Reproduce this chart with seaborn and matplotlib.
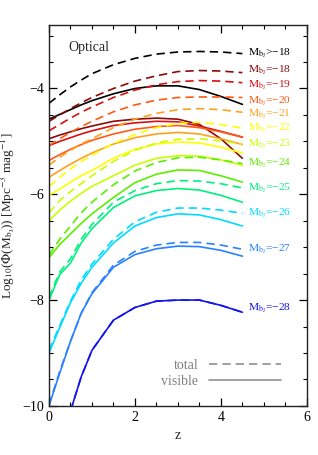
# plot.py
# Luminosity function vs redshift, optical band
# dashed = total, solid = visible

import numpy as np
import pandas as pd
import matplotlib
matplotlib.use('Agg')
import matplotlib.pyplot as plt
from matplotlib.lines import Line2D
from matplotlib.ticker import MultipleLocator
import seaborn as sns

# ── Data ────────────────────────────────────────────────
z = [0, 0.25, 0.5, 0.75, 1.0, 1.5, 2.0, 2.5, 3.0, 3.5, 4.0, 4.5]

mags = ['>-18', '-18', '-19', '-20', '-21', '-22',
        '-23', '-24', '-25', '-26', '-27', '-28']

colors = ['#000000', '#8b0a0a', '#d81010', '#ff5a14', '#ffa01e', '#ffff00',
          '#c8ff00', '#5af000', '#00f07e', '#00dcff', '#2882ff', '#1414f0']

total = [
    [-4.28, -4.12, -3.97, -3.84, -3.72, -3.55, -3.43, -3.35, -3.31, -3.30, -3.31, -3.34],
    [-4.62, -4.50, -4.38, -4.27, -4.17, -4.00, -3.86, -3.76, -3.68, -3.66, -3.67, -3.70],
    [-4.80, -4.68, -4.56, -4.45, -4.35, -4.17, -4.03, -3.93, -3.87, -3.85, -3.86, -3.89],
    [-5.08, -4.95, -4.83, -4.72, -4.62, -4.44, -4.31, -4.22, -4.17, -4.16, -4.16, -4.17],
    [-5.45, -5.30, -5.17, -5.05, -4.95, -4.74, -4.58, -4.47, -4.40, -4.38, -4.40, -4.45],
    [-5.85, -5.68, -5.52, -5.38, -5.26, -5.04, -4.87, -4.74, -4.66, -4.64, -4.68, -4.75],
    [-6.35, -6.12, -5.95, -5.80, -5.65, -5.38, -5.17, -5.03, -4.96, -4.95, -4.99, -5.05],
    [-7.15, -6.85, -6.60, -6.35, -6.15, -5.82, -5.56, -5.40, -5.31, -5.30, -5.35, -5.42],
    [-7.95, -7.47, -7.22, -6.85, -6.57, -6.15, -5.93, -5.80, -5.74, -5.75, -5.80, -5.88],
    [-8.95, -8.48, -8.02, -7.62, -7.32, -6.85, -6.52, -6.34, -6.26, -6.26, -6.30, -6.36],
    [-9.98, -9.35, -8.78, -8.25, -7.86, -7.34, -7.08, -6.96, -6.91, -6.91, -6.96, -7.04],
    [np.nan, np.nan, -10.1, -9.45, -8.95, -8.38, -8.14, -8.02, -8.00, -8.00, -8.10, -8.23],
]

visible = [
    [-4.58, -4.49, -4.40, -4.31, -4.23, -4.10, -4.00, -3.95, -3.95, -4.02, -4.15, -4.30],
    [-4.95, -4.88, -4.82, -4.76, -4.71, -4.62, -4.58, -4.56, -4.58, -4.68, -4.95, -5.32],
    [-5.08, -5.00, -4.93, -4.86, -4.80, -4.70, -4.65, -4.62, -4.63, -4.71, -4.81, -4.92],
    [-5.36, -5.25, -5.15, -5.06, -4.98, -4.86, -4.77, -4.72, -4.70, -4.74, -4.82, -4.92],
    [-5.68, -5.55, -5.43, -5.32, -5.22, -5.05, -4.93, -4.86, -4.83, -4.86, -4.95, -5.06],
    [-6.02, -5.90, -5.77, -5.65, -5.55, -5.32, -5.15, -5.05, -5.01, -5.03, -5.11, -5.22],
    [-6.50, -6.30, -6.13, -5.98, -5.85, -5.65, -5.45, -5.32, -5.27, -5.28, -5.35, -5.45],
    [-7.20, -6.95, -6.75, -6.55, -6.37, -6.06, -5.78, -5.62, -5.54, -5.55, -5.65, -5.77],
    [-8.00, -7.52, -7.30, -6.92, -6.65, -6.25, -6.03, -5.93, -5.89, -5.92, -6.02, -6.15],
    [-9.00, -8.52, -8.05, -7.68, -7.38, -6.92, -6.60, -6.44, -6.37, -6.39, -6.48, -6.60],
    [-10.0, -9.38, -8.78, -8.25, -7.88, -7.38, -7.14, -7.03, -6.98, -6.99, -7.06, -7.17],
    [np.nan, np.nan, -10.1, -9.45, -8.95, -8.38, -8.14, -8.02, -8.00, -8.00, -8.10, -8.23],
]

# small vertical nudges so neighbouring labels don't collide
label_shift = [0, 0.05, -0.05, -0.07, -0.03, 0, 0, 0, 0, 0, 0, 0.07]

# ── Long table for seaborn ──────────────────────────────
rows = []
for m, tot, vis in zip(mags, total, visible):
    for zi, t, v in zip(z, tot, vis):
        rows.append({'z': zi, 'phi': t, 'mag': m, 'kind': 'total'})
        rows.append({'z': zi, 'phi': v, 'mag': m, 'kind': 'visible'})
df = pd.DataFrame(rows).dropna()

sns.set_style('ticks')
plt.rcParams['font.family'] = ['Liberation Serif', 'DejaVu Serif']
plt.rcParams['mathtext.fontset'] = 'stix'

fig = plt.figure(figsize=(3.18, 4.55), dpi=100)
ax = fig.add_axes([0.154, 0.108, 0.811, 0.837])

sns.lineplot(data=df, x='z', y='phi', hue='mag', style='kind',
             hue_order=mags, palette=colors,
             style_order=['total', 'visible'],
             dashes={'total': (5, 3), 'visible': ''},
             linewidth=1.2, legend=False, sort=True,
             estimator=None, ax=ax)

# magnitude labels at the end of each curve
for m, c, tot, vis, dy in zip(mags, colors, total, visible, label_shift):
    yl = (tot[-1] if m != '-28' else vis[-1]) + dy
    if m.startswith('>'):
        txt = r'$\mathrm{M_{b_J}}$>−18'
    else:
        txt = r'$\mathrm{M_{b_J}}$=' + m.replace('-', '−')
    ax.text(4.62, yl, txt, color=c, fontsize=8.2, va='center', ha='left')

ax.text(0.074, 0.94, 'Optical', transform=ax.transAxes,
        fontsize=10, va='center', ha='left')

# legend: total / visible
handles = [Line2D([], [], color='#909090', lw=1.2, dashes=(5, 3)),
           Line2D([], [], color='#909090', lw=1.2)]
ax.legend(handles, ['total', 'visible'], loc='lower right',
          bbox_to_anchor=(0.95, 0.015), frameon=False, markerfirst=False,
          handlelength=5.2, fontsize=10, labelcolor='#808080',
          labelspacing=0.2, handletextpad=0.8)

ax.set_xlim(0, 6)
ax.set_ylim(-10, -2.8)
ax.set_xticks([0, 2, 4, 6])
ax.set_yticks([-10, -8, -6, -4])
ax.xaxis.set_minor_locator(MultipleLocator(0.5))
ax.yaxis.set_minor_locator(MultipleLocator(0.5))
ax.set_yticklabels(['−10', '−8', '−6', '−4'])
ax.tick_params(which='both', direction='in', top=True, right=True,
               labelsize=10, colors='black')
ax.tick_params(which='major', length=6, width=0.9)
ax.tick_params(which='minor', length=3, width=0.8)
for s in ax.spines.values():
    s.set_linewidth(1.0)
    s.set_color('#222222')

ax.set_xlabel('z', fontsize=10, labelpad=4)
ax.set_ylabel(r'Log$_{10}$($\Phi$(M$_{\mathrm{b_J}}$)) [Mpc$^{-3}$ mag$^{-1}$]',
              fontsize=9.5, labelpad=4)

plt.savefig('out.png', dpi=100)
plt.close()
